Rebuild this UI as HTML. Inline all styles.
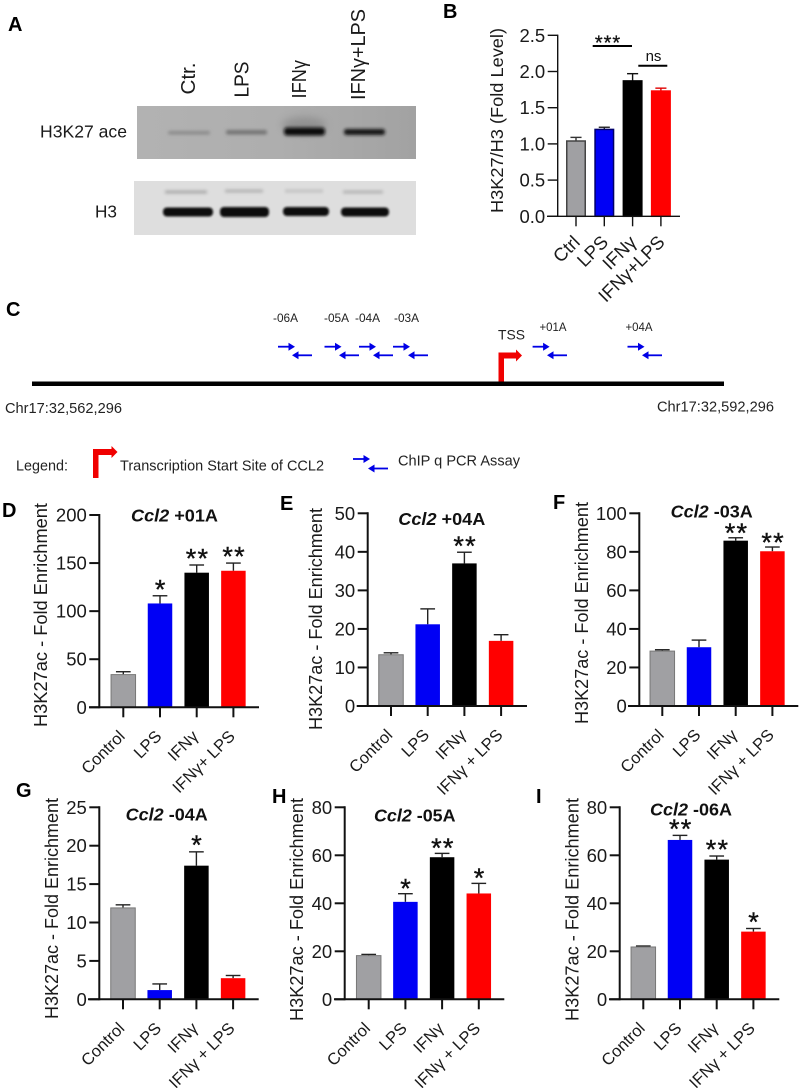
<!DOCTYPE html>
<html lang="en">
<head>
<meta charset="utf-8">
<title>H3K27ac enrichment at the Ccl2 locus</title>
<style>
  html, body { margin: 0; padding: 0; background: #fff; }
  svg { display: block; font-family: "Liberation Sans", "DejaVu Sans", sans-serif; }
</style>
</head>
<body>
<svg id="figure" xmlns="http://www.w3.org/2000/svg" width="800" height="1088" viewBox="0 0 800 1088">
  <defs>
    <filter id="blur1" x="-30%" y="-200%" width="160%" height="500%"><feGaussianBlur stdDeviation="1.5"/></filter>
    <filter id="blur2" x="-30%" y="-150%" width="160%" height="400%"><feGaussianBlur stdDeviation="1"/></filter>
    <filter id="blur3" x="-50%" y="-200%" width="200%" height="500%"><feGaussianBlur stdDeviation="4"/></filter>
    <linearGradient id="blotBg" x1="0" x2="1" y1="0" y2="0">
      <stop offset="0" stop-color="#b2b2b2"/>
      <stop offset="0.5" stop-color="#aeaeae"/>
      <stop offset="1" stop-color="#a2a2a2"/>
    </linearGradient>
  </defs>
  <rect width="800" height="1088" fill="#fff"/>

  <!-- Panel letters -->
  <g font-weight="700" font-size="20" fill="#000">
    <text x="8" y="31">A</text>
    <text x="443" y="18">B</text>
    <text x="6" y="316">C</text>
    <text x="2" y="517">D</text>
    <text x="280" y="510">E</text>
    <text x="553" y="509">F</text>
    <text x="16" y="797">G</text>
    <text x="272" y="803">H</text>
    <text x="536" y="803">I</text>
  </g>

  <!-- Panel A: western blot -->
  <g>
    <g font-size="20" fill="#1a1a1a">
      <text transform="translate(195,94.5) rotate(-90)" textLength="32" lengthAdjust="spacingAndGlyphs">Ctr.</text>
      <text transform="translate(248.5,97.5) rotate(-90)" textLength="36" lengthAdjust="spacingAndGlyphs">LPS</text>
      <text transform="translate(306,98.5) rotate(-90)" textLength="38.5" lengthAdjust="spacingAndGlyphs">IFNγ</text>
      <text transform="translate(365,100) rotate(-90)" textLength="91" lengthAdjust="spacingAndGlyphs">IFNγ+LPS</text>
      <text x="40" y="137.5" font-size="17.5" textLength="87" lengthAdjust="spacingAndGlyphs">H3K27 ace</text>
      <text x="95" y="217.5" font-size="17.5" textLength="22" lengthAdjust="spacingAndGlyphs">H3</text>
    </g>
    <g>
      <rect x="137" y="106" width="279" height="53" fill="url(#blotBg)"/>
      <ellipse cx="304" cy="125" rx="22" ry="8" fill="#808080" opacity="0.6" filter="url(#blur3)"/>
      <rect x="168" y="131" width="42" height="3.5" rx="2" fill="#8a8a8a" filter="url(#blur1)"/>
      <rect x="226" y="130" width="41" height="4.5" rx="2" fill="#747474" filter="url(#blur1)"/>
      <rect x="284" y="127.5" width="41" height="8" rx="3" fill="#0a0a0a" filter="url(#blur1)"/>
      <rect x="344" y="129" width="41" height="6" rx="2.5" fill="#141414" filter="url(#blur1)"/>
    </g>
    <g>
      <rect x="134" y="181" width="282" height="54" fill="#dedede"/>
      <rect x="165" y="190.5" width="42" height="3" fill="#a8a8a8" filter="url(#blur1)"/>
      <rect x="225" y="189.5" width="38" height="3" fill="#b0b0b0" filter="url(#blur1)"/>
      <rect x="285" y="189.5" width="38" height="3" fill="#c0c0c0" filter="url(#blur1)"/>
      <rect x="343" y="190.5" width="40" height="3" fill="#b2b2b2" filter="url(#blur1)"/>
      <rect x="163" y="207.5" width="50" height="9" rx="4" fill="#0c0c0c" filter="url(#blur2)"/>
      <rect x="220" y="207" width="49" height="10" rx="4" fill="#0c0c0c" filter="url(#blur2)"/>
      <rect x="283" y="207" width="46" height="9" rx="4" fill="#0c0c0c" filter="url(#blur2)"/>
      <rect x="341" y="207.5" width="48" height="9" rx="4" fill="#0c0c0c" filter="url(#blur2)"/>
    </g>
  </g>

  <!-- Panel C: gene map -->
  <g>
    <rect x="32" y="381.5" width="692" height="4.5" fill="#000"/>
    <g fill="#f00000">
      <rect x="498.5" y="352.5" width="5.5" height="29"/>
      <rect x="498.5" y="352.5" width="18" height="6"/>
      <polygon points="516,349.5 522,355.5 516,361.5"/>
    </g>
    <g font-size="12" fill="#222" text-anchor="middle">
      <text x="285.5" y="322" textLength="25" lengthAdjust="spacingAndGlyphs">-06A</text>
      <text x="336.5" y="322" textLength="25" lengthAdjust="spacingAndGlyphs">-05A</text>
      <text x="367.5" y="322" textLength="25" lengthAdjust="spacingAndGlyphs">-04A</text>
      <text x="406.5" y="322" textLength="25" lengthAdjust="spacingAndGlyphs">-03A</text>
      <text x="553" y="331" font-size="11.5" textLength="27" lengthAdjust="spacingAndGlyphs">+01A</text>
      <text x="639" y="331" font-size="11.5" textLength="27" lengthAdjust="spacingAndGlyphs">+04A</text>
      <text x="511.5" y="339.5" font-size="14" textLength="27" lengthAdjust="spacingAndGlyphs">TSS</text>
    </g>
    <g id="assayArrows"></g>
    <g font-size="14.5" fill="#222">
      <text x="5" y="413" textLength="117" lengthAdjust="spacingAndGlyphs">Chr17:32,562,296</text>
      <text x="657" y="411.5" textLength="117" lengthAdjust="spacingAndGlyphs">Chr17:32,592,296</text>
      <text x="16" y="470.5" textLength="52" lengthAdjust="spacingAndGlyphs">Legend:</text>
      <text x="120" y="470.5" textLength="204" lengthAdjust="spacingAndGlyphs">Transcription Start Site of CCL2</text>
      <text x="398" y="465.5" textLength="122" lengthAdjust="spacingAndGlyphs">ChIP q PCR Assay</text>
    </g>
    <g fill="#f00000">
      <rect x="93" y="449" width="5.5" height="29"/>
      <rect x="93" y="449" width="19" height="6"/>
      <polygon points="111.500,446 117.500,452 111.500,458"/>
    </g>
  </g>

  <g id="charts"></g>
</svg>

<script>
// ----- Shared categories -----
const categoriesB = ['Ctrl', 'LPS', 'IFNγ', 'IFNγ+LPS'];
const categoriesD = ['Control', 'LPS', 'IFNγ', 'IFNγ+ LPS'];
const categoriesStd = ['Control', 'LPS', 'IFNγ', 'IFNγ + LPS'];

// ----- Panel B -----
const valuesB = [1.04, 1.20, 1.87, 1.73];
const errTopsB = [1.09, 1.23, 1.97, 1.77];
const ticksB = ['0.0', '0.5', '1.0', '1.5', '2.0', '2.5'];

// ----- Panel D -----
const valuesD = [34, 108, 140, 142];
const errTopsD = [37, 116, 148, 150];
const ticksD = ['0', '50', '100', '150', '200'];
const starsD = ['', '*', '**', '**'];

// ----- Panel E -----
const valuesE = [13.3, 21.2, 37, 16.9];
const errTopsE = [13.8, 25.2, 39.9, 18.5];
const ticksE = ['0', '10', '20', '30', '40', '50'];
const starsE = ['', '', '**', ''];

// ----- Panel F -----
const valuesF = [28.5, 30.5, 85.8, 80.3];
const errTopsF = [29.2, 34.2, 87.3, 82.5];
const ticksF = ['0', '20', '40', '60', '80', '100'];
const starsF = ['', '', '**', '**'];

// ----- Panel G -----
const valuesG = [11.9, 1.2, 17.4, 2.75];
const errTopsG = [12.3, 2.0, 19.2, 3.1];
const ticksG = ['0', '5', '10', '15', '20', '25'];
const starsG = ['', '', '*', ''];

// ----- Panel H -----
const valuesH = [18.2, 40.6, 59.2, 44.1];
const errTopsH = [18.7, 44, 60.8, 48.3];
const ticksH = ['0', '20', '40', '60', '80'];
const starsH = ['', '*', '**', '*'];

// ----- Panel I -----
const valuesI = [21.8, 66.4, 58.2, 28.2];
const errTopsI = [22.2, 68.3, 59.7, 29.5];
const ticksI = ['0', '20', '40', '60', '80'];
const starsI = ['', '**', '**', '*'];

const SVGNS = 'http://www.w3.org/2000/svg';
const barFills = ['#a0a0a3', '#0000f5', '#000000', '#ff0000'];
const chartsRoot = document.getElementById('charts');

function mk(tag, attrs, parent, text) {
  const el = document.createElementNS(SVGNS, tag);
  for (const k in attrs) el.setAttribute(k, attrs[k]);
  if (text !== undefined) el.textContent = text;
  parent.appendChild(el);
  return el;
}

function drawChart(cfg, categories, values, errTops, ticks, stars) {
  const yMax = parseFloat(ticks[ticks.length - 1]);
  const yScale = function (v) { return cfg.y0 - (v / yMax) * (cfg.y0 - cfg.yTop); };
  const xScale = function (i) { return cfg.cx0 + i * cfg.step; };
  const lw = cfg.axisWidth;

  const g = mk('g', {}, chartsRoot);
  
  

  // bars and error bars
  values.forEach(function (v, i) {
    const cx = xScale(i);
    const top = yScale(v);
    const et = yScale(errTops[i]);
    const errColor = cfg.errColors ? cfg.errColors[i] : '#222';
    const errLine = mk('line', { x1: cx, x2: cx, y1: top, y2: et, stroke: errColor, 'stroke-width': 1.4 }, g);
    
    
    const errCap = mk('line', { x1: cx - cfg.barWidth * 0.3, x2: cx + cfg.barWidth * 0.3, y1: et, y2: et, stroke: errColor, 'stroke-width': 1.4 }, g);
    
    
    const barAttrs = { x: cx - cfg.barWidth / 2, y: top, width: cfg.barWidth, height: cfg.y0 - top, fill: barFills[i] };
    if (cfg.barStrokes) {
      barAttrs.stroke = cfg.barStrokes[i];
      barAttrs['stroke-width'] = cfg.barStrokeWidth;
    }
    const bar = mk('rect', barAttrs, g);
    
    
    const tick = mk('line', { x1: cx, x2: cx, y1: cfg.y0, y2: cfg.y0 + 10, stroke: '#111', 'stroke-width': lw }, g);
    
    
    const lab = mk('text', {
      transform: 'translate(' + (cx + cfg.labelDx) + ',' + (cfg.y0 + cfg.labelDy) + ') rotate(-45)',
      'text-anchor': 'end', 'font-size': cfg.catFont, fill: '#1a1a1a'
    }, g, categories[i]);
    
    
    if (stars && stars[i]) {
      const star = mk('text', {
        x: cx + 0.8, y: et - cfg.starGap + 11, 'text-anchor': 'middle', 'font-size': 27,
        'letter-spacing': 1.3, fill: '#111', stroke: '#111', 'stroke-width': 0.4
      }, g, stars[i]);
      
      
    }
  });

  // axes
  const yAxis = mk('line', { x1: cfg.axisX, x2: cfg.axisX, y1: cfg.yTop - lw / 2, y2: cfg.y0 + lw / 2, stroke: '#111', 'stroke-width': lw }, g);
  
  
  const xAxis = mk('line', { x1: cfg.xStart, x2: cfg.xEnd, y1: cfg.y0, y2: cfg.y0, stroke: '#111', 'stroke-width': lw }, g);
  
  

  ticks.forEach(function (t) {
    const y = yScale(parseFloat(t));
    const yt = mk('line', { x1: cfg.axisX - cfg.tickLen, x2: cfg.axisX, y1: y, y2: y, stroke: '#111', 'stroke-width': lw }, g);
    
    
    const tl = mk('text', {
      x: cfg.axisX - cfg.tickLen - 2.5, y: y + 6.5, 'text-anchor': 'end', 'font-size': cfg.tickFont, fill: '#1a1a1a'
    }, g, t);
    
    
  });

  // y title
  const yTitle = mk('text', {
    transform: 'translate(' + cfg.titleX + ',' + cfg.titleBottom + ') rotate(-90)',
    'font-size': cfg.titleFont, fill: '#1a1a1a',
    textLength: cfg.titleLen, lengthAdjust: 'spacingAndGlyphs'
  }, g, cfg.yTitle);
  
  

  // chart title
  if (cfg.gene) {
    const title = mk('text', {
      x: cfg.headX, y: cfg.headY, 'font-size': 17.5, 'font-weight': 700, fill: '#111',
      textLength: cfg.headLen, lengthAdjust: 'spacingAndGlyphs'
    }, g);
    
    
    mk('tspan', { 'font-style': 'italic' }, title, cfg.gene);
    mk('tspan', {}, title, ' ' + cfg.assay);
  }
  return { g: g, yScale: yScale, xScale: xScale };
}

const enrichTitle = 'H3K27ac - Fold Enrichment';
function lowerCfg(o) {
  return Object.assign({
    axisWidth: 2, barWidth: 24.5, step: 36.7, tickLen: 10, tickFont: 18.5, catFont: 16.5,
    labelDx: 2.5, labelDy: 30, titleFont: 18, titleLen: 223, yTitle: enrichTitle,
    starGap: 8, gene: 'Ccl2', barStrokes: ['#777', 'none', 'none', 'none'], barStrokeWidth: 1
  }, o);
}

const panelB = drawChart({
  id: 'b', axisX: 557.7, y0: 216.3, yTop: 35.3, xStart: 547, xEnd: 680, cx0: 576, step: 28.3,
  axisWidth: 1.4, barWidth: 18.5, tickLen: 10, tickFont: 18.5, catFont: 18.5, labelDx: 5, labelDy: 27,
  titleX: 503, titleBottom: 213, titleLen: 185, titleFont: 17.5, yTitle: 'H3K27/H3 (Fold Level)',
  barStrokes: ['#444', '#00006a', '#000', '#ff0000'], barStrokeWidth: 1.5,
  errColors: ['#333', '#222', '#111', '#e00000']
}, categoriesB, valuesB, errTopsB, ticksB, null);

drawChart(lowerCfg({ id: 'd', axisX: 99.3, y0: 707.3, yTop: 515, xStart: 89, xEnd: 259, cx0: 123.3,
  titleX: 47, titleBottom: 727, titleLen: 224, gene: 'Ccl2', assay: '+01A', headX: 131, headY: 521.5, headLen: 87, starGap: 8.5 }),
  categoriesD, valuesD, errTopsD, ticksD, starsD);

drawChart(lowerCfg({ id: 'e', axisX: 367.7, y0: 706, yTop: 513.3, xStart: 356.7, xEnd: 527, cx0: 391,
  titleX: 322, titleBottom: 730, titleLen: 222, assay: '+04A', headX: 398.3, headY: 525, headLen: 87 }),
  categoriesStd, valuesE, errTopsE, ticksE, starsE);

drawChart(lowerCfg({ id: 'f', axisX: 639.3, y0: 706, yTop: 513.3, xStart: 628, xEnd: 798.3, cx0: 662.3,
  titleX: 588, titleBottom: 724, titleLen: 222, assay: '-03A', headX: 670.7, headY: 517.3, headLen: 82, starGap: 6.7 }),
  categoriesStd, valuesF, errTopsF, ticksF, starsF);

drawChart(lowerCfg({ id: 'g', axisX: 99.3, y0: 999.3, yTop: 807.3, xStart: 88, xEnd: 258.7, cx0: 123,
  titleX: 58, titleBottom: 1019, titleLen: 221, assay: '-04A', headX: 125.7, headY: 820.3, headLen: 82, starGap: 9 }),
  categoriesStd, valuesG, errTopsG, ticksG, starsG);

drawChart(lowerCfg({ id: 'h', axisX: 344.7, y0: 999.3, yTop: 807.3, xStart: 334, xEnd: 504.3, cx0: 368.7,
  titleX: 303, titleBottom: 1021, titleLen: 223, assay: '-05A', headX: 374, headY: 821.7, headLen: 81.5, starGap: 7.2 }),
  categoriesStd, valuesH, errTopsH, ticksH, starsH);

drawChart(lowerCfg({ id: 'i', axisX: 619.7, y0: 999.3, yTop: 807.3, xStart: 609, xEnd: 779.3, cx0: 643.3,
  titleX: 578.5, titleBottom: 1021, titleLen: 223, assay: '-06A', headX: 650, headY: 815.7, headLen: 82, starGap: 8.5 }),
  categoriesStd, valuesI, errTopsI, ticksI, starsI);

// Panel B significance annotations
const sigRoot = panelB.g;
const sigLine1 = mk('line', { x1: 592.7, x2: 632, y1: 46, y2: 46, stroke: '#000', 'stroke-width': 2 }, sigRoot);


const sigStars = mk('text', { x: 608, y: 49.5, 'text-anchor': 'middle', 'font-size': 20, 'letter-spacing': 1, fill: '#111', stroke: '#111', 'stroke-width': 0.3 }, sigRoot, '***');


const sigLine2 = mk('line', { x1: 638.3, x2: 667.3, y1: 65.7, y2: 65.7, stroke: '#000', 'stroke-width': 2 }, sigRoot);


const sigNs = mk('text', { x: 653.5, y: 61, 'text-anchor': 'middle', 'font-size': 15, fill: '#111' }, sigRoot, 'ns');



// Panel C primer arrows
const arrowsRoot = document.getElementById('assayArrows');
const primerForwardStarts = [278, 324.5, 359, 393, 532.6, 627.5];
const primerReverseEnds = [312, 359, 393, 428, 567, 662];
function drawPrimerPair(fx, rx, y1, y2) {
  const fLine = mk('line', { x1: fx, x2: fx + 12, y1: y1, y2: y1, stroke: '#0000e6', 'stroke-width': 1.8 }, arrowsRoot);
  
  
  const fHead = mk('path', { d: 'M' + (fx + 10.5) + ' ' + (y1 - 4) + 'L' + (fx + 17) + ' ' + y1 + 'L' + (fx + 10.5) + ' ' + (y1 + 4) + 'Z', fill: '#0000e6' }, arrowsRoot);
  
  
  const rLine = mk('line', { x1: rx, x2: rx - 15, y1: y2, y2: y2, stroke: '#0000e6', 'stroke-width': 1.8 }, arrowsRoot);
  
  
  const rHead = mk('path', { d: 'M' + (rx - 13.5) + ' ' + (y2 - 4) + 'L' + (rx - 20) + ' ' + y2 + 'L' + (rx - 13.5) + ' ' + (y2 + 4) + 'Z', fill: '#0000e6' }, arrowsRoot);
  
  
}
primerForwardStarts.forEach(function (fx, i) {
  drawPrimerPair(fx, primerReverseEnds[i], 346.7, 355.3);
});
drawPrimerPair(353, 388, 459, 468.5);
</script>
</body>
</html>
